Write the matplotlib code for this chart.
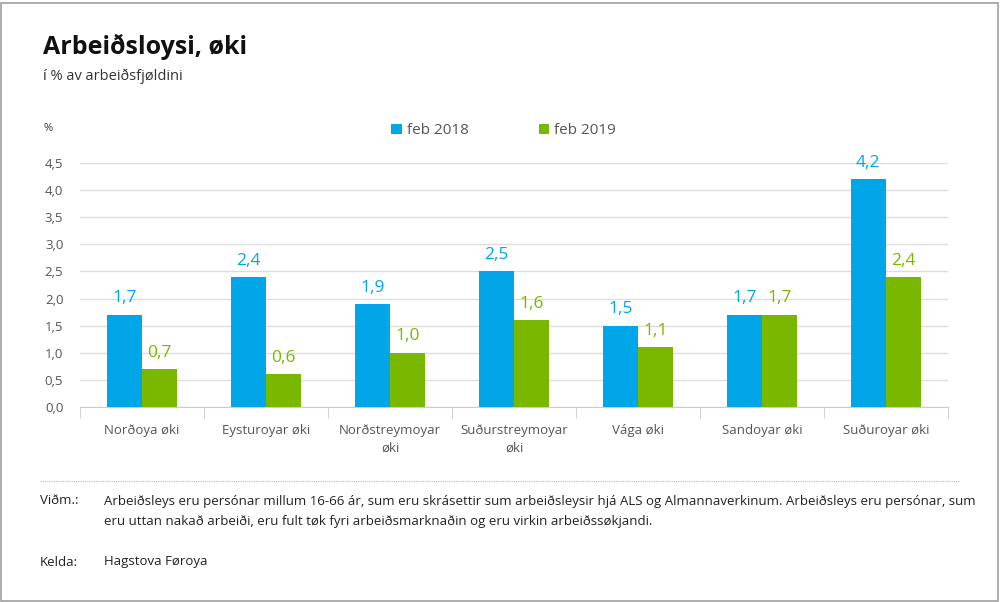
import numpy as np
import matplotlib
matplotlib.use("Agg")
import matplotlib.pyplot as plt
from matplotlib.patches import Rectangle
from matplotlib.lines import Line2D

plt.rcParams["font.family"] = ["Open Sans", "DejaVu Sans"]

categories = ["Norðoya øki", "Eysturoyar øki", "Norðstreymoyar\nøki",
              "Suðurstreymoyar\nøki", "Vága øki", "Sandoyar øki", "Suðuroyar øki"]
feb_2018 = [1.7, 2.4, 1.9, 2.5, 1.5, 1.7, 4.2]
feb_2019 = [0.7, 0.6, 1.0, 1.6, 1.1, 1.7, 2.4]
series_names = ["feb 2018", "feb 2019"]
y_ticks = [0.0, 0.5, 1.0, 1.5, 2.0, 2.5, 3.0, 3.5, 4.0, 4.5]

blue = "#00a6e8"
green = "#7ab800"
text_grey = "#555555"

W, H = 1000, 602
fig = plt.figure(figsize=(W / 100, H / 100), dpi=100)

# outer frame
fig.patches.append(Rectangle((1 / W, 1 / H), 997 / W, 598 / H, transform=fig.transFigure,
                             fill=False, edgecolor="#a0a0a0", linewidth=1.2))

ax = fig.add_axes([80 / W, 1 - 407 / H, 868 / W, 244 / H])
x = np.arange(len(categories))
bw = 0.285
b1 = ax.bar(x - bw / 2, feb_2018, bw, color=blue, label=series_names[0], zorder=3)
b2 = ax.bar(x + bw / 2, feb_2019, bw, color=green, label=series_names[1], zorder=3)

for bars, vals, c in [(b1, feb_2018, blue), (b2, feb_2019, green)]:
    for rect, v in zip(bars, vals):
        ax.annotate(f"{v:.1f}".replace(".", ","),
                    (rect.get_x() + rect.get_width() / 2, v),
                    xytext=(0, 6), textcoords="offset points",
                    ha="center", va="bottom", color=c, fontsize=12.5)

ax.set_xlim(-0.5, len(categories) - 0.5)
ax.set_ylim(0, 4.5)
ax.set_yticks(y_ticks)
ax.set_yticklabels([f"{t:.1f}".replace(".", ",") for t in y_ticks])
ax.yaxis.grid(True, color="#dddddd", linewidth=1, zorder=0)
ax.set_axisbelow(True)
for s in ["top", "right", "left"]:
    ax.spines[s].set_visible(False)
ax.spines["bottom"].set_color("#cccccc")
ax.tick_params(axis="y", length=0, labelsize=9.5, labelcolor=text_grey, pad=12)
ax.set_xticks(x)
ax.set_xticklabels(categories, fontsize=9.5, color=text_grey, linespacing=1.5)
ax.tick_params(axis="x", length=0, pad=12)
ax.set_xticks(np.arange(-0.5, len(categories)), minor=True)
ax.tick_params(axis="x", which="minor", length=8, color="#cccccc")

# legend
ax.legend(loc="lower center", bbox_to_anchor=(0.488, 1.045), ncol=2, frameon=False,
          fontsize=11, handlelength=0.7, handleheight=0.7, handletextpad=0.3,
          columnspacing=4.6, labelcolor=text_grey)

fig.text(43 / W, 1 - 47 / H, "Arbeiðsloysi, øki", fontsize=18, fontweight="bold",
         color="#111111", va="center")
fig.text(43 / W, 1 - 76 / H, "í % av arbeiðsfjøldini", fontsize=10.5,
         color="#333333", va="center")
fig.text(43 / W, 1 - 128 / H, "%", fontsize=8, color="#333333", va="center")

fig.lines.append(Line2D([40 / W, 960 / W], [1 - 481 / H, 1 - 481 / H],
                        transform=fig.transFigure, color="#bbbbbb",
                        linewidth=0.8, linestyle=(0, (1, 1))))

foot = dict(fontsize=9.5, color="#222222", va="center")
fig.text(40 / W, 1 - 501 / H, "Viðm.:", **foot)
fig.text(104 / W, 1 - 501 / H,
         "Arbeiðsleys eru persónar millum 16-66 ár, sum eru skrásettir sum arbeiðsleysir hjá ALS og "
         "Almannaverkinum. Arbeiðsleys eru persónar, sum", **foot)
fig.text(104 / W, 1 - 522 / H,
         "eru uttan nakað arbeiði, eru fult tøk fyri arbeiðsmarknaðin og eru virkin arbeiðssøkjandi.",
         **foot)
fig.text(40 / W, 1 - 562 / H, "Kelda:", **foot)
fig.text(104 / W, 1 - 562 / H, "Hagstova Føroya", **foot)

fig.savefig("out.png", dpi=100)
